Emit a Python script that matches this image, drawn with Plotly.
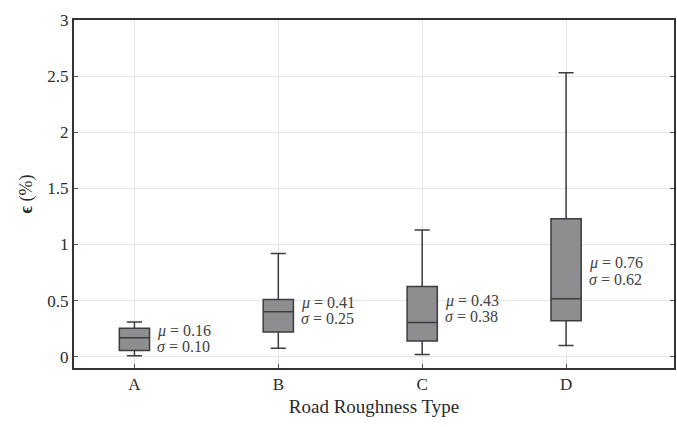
import plotly.graph_objects as go

categories = ["A", "B", "C", "D"]
lower = [0.01, 0.077, 0.02, 0.10]
q1 = [0.056, 0.22, 0.14, 0.32]
median = [0.17, 0.40, 0.305, 0.516]
q3 = [0.255, 0.51, 0.626, 1.23]
upper = [0.31, 0.92, 1.13, 2.53]
means = [0.16, 0.41, 0.43, 0.76]
sigmas = [0.10, 0.25, 0.38, 0.62]
yticks = [0, 0.5, 1, 1.5, 2, 2.5, 3]

FONT = "Liberation Serif"
xpos = list(range(len(categories)))

fig = go.Figure()
fig.add_trace(go.Box(
    x=xpos, q1=q1, median=median, q3=q3,
    lowerfence=lower, upperfence=upper,
    width=0.21, whiskerwidth=0.5,
    fillcolor="#8e8e90",
    line=dict(color="#3c3c3c", width=1.5),
    boxpoints=False, showlegend=False, hoverinfo="skip",
))

for i, (m, s) in enumerate(zip(means, sigmas)):
    for txt, ys in ((f"<i>μ</i> = {m:.2f}", 8), (f"<i>σ</i> = {s:.2f}", -8)):
        fig.add_annotation(
            x=xpos[i], y=m, xref="x", yref="y",
            text=txt,
            showarrow=False, xanchor="left", yanchor="middle", align="left",
            xshift=21, yshift=ys, font=dict(family=FONT, size=16, color="#404040"),
        )

fig.update_layout(
    width=677, height=427,
    margin=dict(l=74, r=1, t=20, b=59),
    paper_bgcolor="white", plot_bgcolor="white",
    font=dict(family=FONT, size=17, color="#2a2a2a"),
    xaxis=dict(
        range=[-0.42, 3.75], tickvals=xpos, ticktext=categories,
        showgrid=True, gridcolor="#e6e6e6", gridwidth=1,
        showline=True, linecolor="#333", linewidth=2, mirror=True,
        ticks="inside", ticklen=4, tickcolor="#555",
        zeroline=False,
        title=dict(text="Road Roughness Type", standoff=6, font=dict(size=19)),
        tickfont=dict(size=17),
    ),
    yaxis=dict(
        range=[-0.1, 3], tickvals=yticks,
        ticktext=["0", "0.5", "1", "1.5", "2", "2.5", "3"],
        showgrid=True, gridcolor="#e6e6e6", gridwidth=1,
        showline=True, linecolor="#333", linewidth=2, mirror="ticks",
        ticks="inside", ticklen=4, tickcolor="#555",
        zeroline=False,
        title=dict(text="<b>ϵ</b> (%)", standoff=10, font=dict(size=18)),
        tickfont=dict(size=17),
    ),
)

post = (
    "document.body.style.margin='0';"
    "document.body.style.overflow='hidden';"
    "var gd=document.getElementById('{plot_id}');"
    "Plotly.relayout(gd,{width:677,height:427});"
)
fig.write_html("out.html", post_script=post, config={"displayModeBar": False})
